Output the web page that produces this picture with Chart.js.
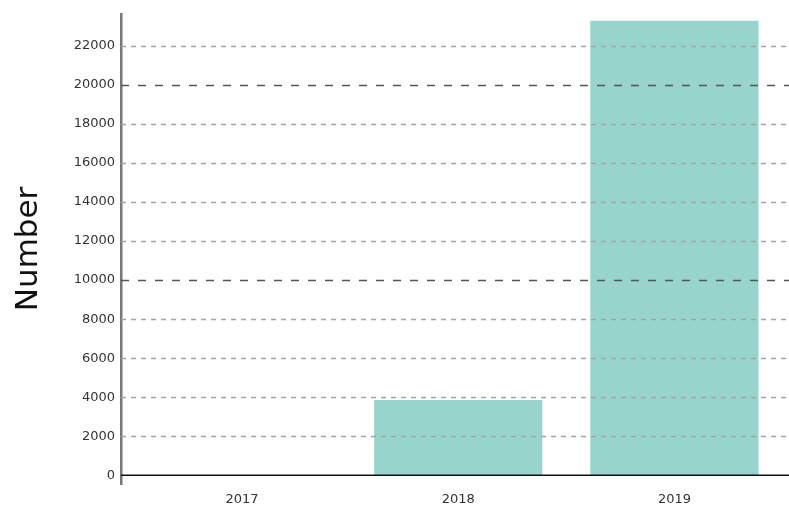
<!DOCTYPE html>
<html>
<head>
<meta charset="utf-8">
<script src="https://cdn.jsdelivr.net/npm/chart.js@4/dist/chart.umd.min.js"></script>
<style>
  html, body { margin: 0; padding: 0; background: #fff; }
  #wrap { width: 789px; height: 508px; }
</style>
</head>
<body>
<div id="wrap"><canvas id="c" width="789" height="508"></canvas></div>
<script>
const categories = ['2017', '2018', '2019'];
const values = [0, 3850, 23300];
const yTicks = [0, 2000, 4000, 6000, 8000, 10000, 12000, 14000, 16000, 18000, 20000, 22000];
const majorTicks = [10000, 20000];
const yTitle = 'Number';

const gridPlugin = {
  id: 'gridOver',
  afterDatasetsDraw(chart) {
    const {ctx, chartArea, scales} = chart;
    const y = scales.y;
    ctx.save();
    yTicks.forEach(v => {
      if (v === 0) return;
      const py = Math.round(y.getPixelForValue(v)) + 0.5;
      const major = majorTicks.includes(v);
      ctx.beginPath();
      ctx.setLineDash(major ? [8, 9] : [5, 5]);
      ctx.strokeStyle = major ? '#555555' : '#a3a3a3';
      ctx.lineWidth = 1.5;
      ctx.moveTo(chartArea.left, py);
      ctx.lineTo(chartArea.right, py);
      ctx.stroke();
    });
    const p0 = y.getPixelForValue(0);
    ctx.setLineDash([]);
    ctx.beginPath();
    ctx.strokeStyle = '#111111';
    ctx.lineWidth = 1.5;
    ctx.moveTo(chartArea.left, p0);
    ctx.lineTo(chartArea.right, p0);
    ctx.stroke();
    ctx.restore();
  }
};

new Chart(document.getElementById('c'), {
  type: 'bar',
  data: {
    datasets: [{
      data: categories.map((c, i) => ({ x: i, y: values[i] })),
      backgroundColor: '#97d4cc',
      borderWidth: 0,
      categoryPercentage: 1,
      barPercentage: 0.778
    }]
  },
  options: {
    responsive: false,
    animation: false,
    layout: { padding: { top: 13, right: 0, bottom: 0, left: 0 } },
    plugins: { legend: { display: false }, tooltip: { enabled: false } },
    scales: {
      x: {
        type: 'linear',
        offset: false,
        min: -0.56,
        max: 2.53,
        afterBuildTicks: s => { s.ticks = categories.map((c, i) => ({ value: i })); },
        afterFit: s => { s.height = 24; },
        grid: { display: false, drawTicks: false },
        border: { display: false },
        ticks: {
          callback: v => categories[v] ?? '',
          color: '#333333',
          font: { family: 'DejaVu Sans', size: 13 },
          padding: 8,
          maxRotation: 0,
          autoSkip: false
        }
      },
      y: {
        min: -450,
        max: 23650,
        afterBuildTicks: s => { s.ticks = yTicks.map(v => ({ value: v })); },
        afterFit: s => { s.width = 121; },
        grid: { display: false, drawTicks: false },
        border: { display: true, color: '#777777', width: 2.5 },
        ticks: {
          callback: v => String(v),
          color: '#333333',
          font: { family: 'DejaVu Sans', size: 13 },
          padding: 6,
          autoSkip: false
        },
        title: {
          display: true,
          text: yTitle,
          color: '#111111',
          font: { family: 'DejaVu Sans', size: 31 },
          padding: { top: 10, bottom: 0 }
        }
      }
    }
  },
  plugins: [gridPlugin]
});
</script>
</body>
</html>
